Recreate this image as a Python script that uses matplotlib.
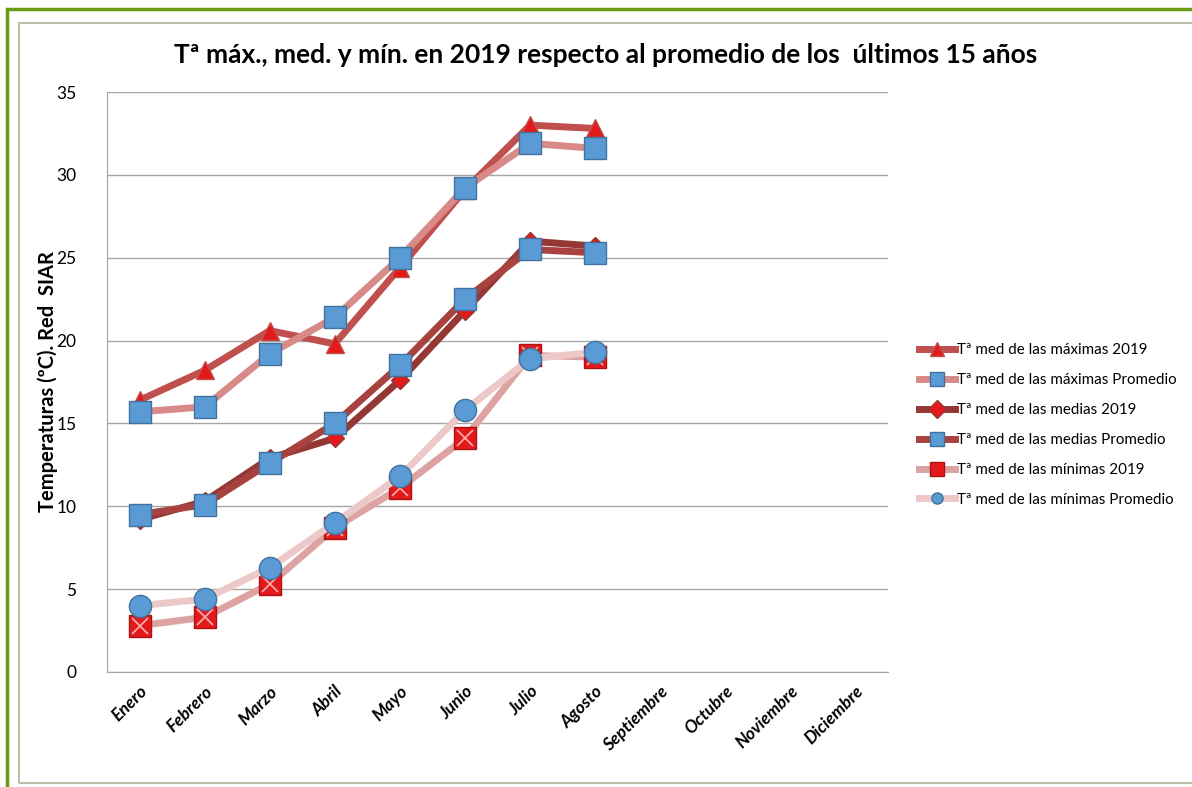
import matplotlib
matplotlib.use("Agg")
import matplotlib.pyplot as plt
from matplotlib.patches import Rectangle
from matplotlib.lines import Line2D

meses = ["Enero", "Febrero", "Marzo", "Abril", "Mayo", "Junio", "Julio",
         "Agosto", "Septiembre", "Octubre", "Noviembre", "Diciembre"]

max_2019 = [16.4, 18.2, 20.6, 19.8, 24.4, 29.1, 33.0, 32.8]
max_prom = [15.7, 16.0, 19.2, 21.4, 25.0, 29.2, 31.9, 31.6]
med_2019 = [9.2, 10.3, 12.9, 14.1, 17.6, 21.8, 26.0, 25.7]
med_prom = [9.5, 10.1, 12.6, 15.0, 18.5, 22.5, 25.5, 25.3]
min_2019 = [2.8, 3.3, 5.3, 8.7, 11.1, 14.1, 19.1, 19.0]
min_prom = [4.0, 4.4, 6.3, 9.0, 11.8, 15.8, 18.9, 19.3]

labels = ["Tª med de las máximas 2019", "Tª med de las máximas Promedio",
          "Tª med de las medias 2019", "Tª med de las medias Promedio",
          "Tª med de las mínimas 2019", "Tª med de las mínimas Promedio"]

plt.rcParams['font.family'] = ['Lato', 'DejaVu Sans']

W, H = 1192, 787
fig = plt.figure(figsize=(W / 100, H / 100), dpi=100)
fig.patch.set_facecolor("white")

# frames
fig.add_artist(Rectangle((7 / W, -0.01), 1.02, 1 - 9 / H + 0.01, transform=fig.transFigure,
                         fill=False, edgecolor="#6a9a14", lw=2.5))
fig.add_artist(Rectangle((19 / W, 1 - 783 / H), 1.0, (783 - 23) / H, transform=fig.transFigure,
                         fill=False, edgecolor="#b9c0a8", lw=1.5))

ax = fig.add_axes([107 / W, 1 - 672 / H, (888 - 107) / W, (672 - 92) / H])
x = list(range(len(meses)))
n = len(max_2019)

ax.set_xlim(-0.5, 11.5)
ax.set_ylim(0, 35)
ax.set_yticks(range(0, 36, 5))
ax.yaxis.grid(True, color="#a6a6a6", lw=1.0)
ax.set_axisbelow(True)
for s in ["top", "right"]:
    ax.spines[s].set_visible(False)
for s in ["left", "bottom"]:
    ax.spines[s].set_color("#a6a6a6")
ax.tick_params(axis="both", length=0, labelsize=12.5)
ax.tick_params(axis="y", pad=22)
ax.set_xticks(x)
ax.set_xticklabels(meses, rotation=45, ha="right", rotation_mode="anchor",
                   fontstyle="italic", fontweight="bold", fontsize=12.5)
ax.tick_params(axis="x", pad=8)

series = [
    (max_2019, "#c0504d", "^", "#e31a1c", "#c0504d", 13),
    (max_prom, "#d88a88", "s", "#5b9bd5", "#41719c", 16),
    (med_2019, "#953735", "D", "#e31a1c", "#953735", 9),
    (med_prom, "#a8423f", "s", "#5b9bd5", "#41719c", 16),
    (min_2019, "#dca3a2", "X", "#e31a1c", "#a01010", 0),
    (min_prom, "#ecc9c8", "o", "#5b9bd5", "#41719c", 16),
]

handles = []
for (vals, lc, mk, mfc, mec, ms), lab in zip(series, labels):
    if mk == "X":
        ax.plot(x[:n], vals, color=lc, lw=5, solid_capstyle="butt", zorder=2)
        ax.plot(x[:n], vals, ls="none", marker="s", ms=16, mfc=mfc, mec="#b01010", mew=1, zorder=3)
        ax.plot(x[:n], vals, ls="none", marker="x", ms=12, mec="#ffb0b0", mew=1.2, zorder=3)
        h = Line2D([], [], color=lc, lw=5, marker="s", ms=10, mfc=mfc, mec="#b01010")
    else:
        ax.plot(x[:n], vals, color=lc, lw=5, marker=mk, ms=ms, mfc=mfc, mec=mec, mew=1,
                solid_capstyle="butt", zorder=3)
        h = Line2D([], [], color=lc, lw=5, marker=mk, ms=min(ms, 10) if mk != "o" else 8,
                   mfc=mfc, mec=mec)
    handles.append(h)

ax.set_ylabel("Temperaturas (ºC). Red  SIAR", fontsize=14.5, fontweight="bold")
ax.yaxis.set_label_coords(-0.063, 0.5)

fig.text(606 / W, 1 - 55 / H,
         "Tª máx., med. y mín. en 2019 respecto al promedio de los  últimos 15 años",
         ha="center", va="center", fontsize=19, fontweight="bold")

leg = fig.legend(handles, labels, loc="center left", bbox_to_anchor=(905 / W, 1 - 425 / H),
                 frameon=False, fontsize=10.9, handlelength=2.4, handletextpad=0.15,
                 labelspacing=1.05)

fig.savefig("out.png", dpi=100, facecolor="white")
